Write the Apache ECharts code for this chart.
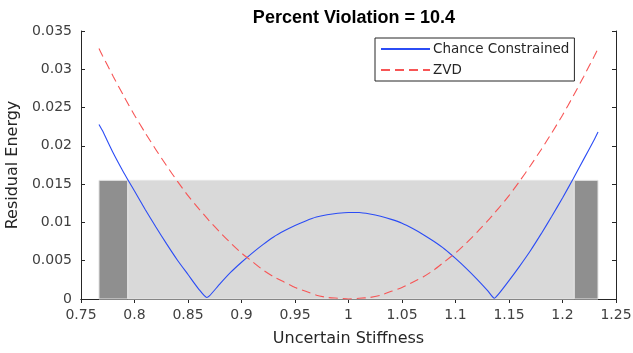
<!DOCTYPE html>
<html>
<head>
<meta charset="utf-8">
<script src="https://cdn.jsdelivr.net/npm/echarts@6/dist/echarts.min.js"></script>
<style>
  html, body { margin: 0; padding: 0; background: #fff; }
  #chart { width: 633px; height: 353px; }
</style>
</head>
<body>
<div id="chart"></div>
<script>
// stiffness samples and residual energy
const stiffness = [0.7668, 0.77, 0.78, 0.79, 0.80, 0.81, 0.82, 0.83, 0.84, 0.85, 0.86, 0.8675,
  0.87, 0.88, 0.89, 0.90, 0.91, 0.92, 0.93, 0.94, 0.95, 0.96, 0.97, 0.98, 0.99, 1.00,
  1.01, 1.02, 1.03, 1.04, 1.05, 1.06, 1.07, 1.08, 1.09, 1.10, 1.11, 1.12, 1.13, 1.1363,
  1.14, 1.15, 1.16, 1.17, 1.18, 1.19, 1.20, 1.21, 1.22, 1.23, 1.2332];
const chanceConstrained = [0.0228, 0.0220, 0.0191, 0.0165, 0.0141, 0.0117, 0.0094, 0.0072, 0.0051, 0.0032, 0.0013, 0.0002,
  0.0004, 0.0020, 0.0035, 0.0048, 0.0060, 0.0071, 0.0081, 0.0089, 0.0096, 0.0102, 0.0107, 0.0110, 0.0112, 0.0113,
  0.0113, 0.0111, 0.0108, 0.0104, 0.0099, 0.0092, 0.0084, 0.0075, 0.0065, 0.0053, 0.0040, 0.0026, 0.0011, 0.0001,
  0.0006, 0.0024, 0.0043, 0.0063, 0.0085, 0.0108, 0.0132, 0.0157, 0.0183, 0.0209, 0.0218];
const zvd = [0.0327, 0.0318, 0.0291, 0.0265, 0.0240, 0.0217, 0.0195, 0.0174, 0.0154, 0.0135, 0.0118, 0.0106,
  0.0102, 0.0087, 0.0073, 0.0060, 0.0049, 0.0038, 0.0029, 0.0022, 0.0015, 0.0010, 0.0005, 0.0002, 0.0001, 0.0000,
  0.0001, 0.0002, 0.0005, 0.0010, 0.0015, 0.0022, 0.0029, 0.0038, 0.0049, 0.0060, 0.0073, 0.0087, 0.0102, 0.0112,
  0.0118, 0.0135, 0.0154, 0.0174, 0.0195, 0.0217, 0.0240, 0.0265, 0.0291, 0.0318, 0.0327];

// uncertainty band: outer limits, inner limits, energy threshold
const bandOuter = [0.7668, 1.2332];
const bandInner = [0.7936, 1.211];
const threshold = 0.0155;

const xTicks = { min: 0.75, max: 1.25, step: 0.05 };
const yTicks = { min: 0, max: 0.035, step: 0.005 };

const pairs = ys => stiffness.map((x, i) => [x, ys[i]]);
const fmt = v => String(+v.toFixed(3));

const chart = echarts.init(document.getElementById('chart'));

const tickStyle = { inside: true, length: 4, lineStyle: { color: '#262626', width: 1 } };
const lineAxis = { lineStyle: { color: '#262626', width: 1 } };
const labelStyle = { color: '#404040', fontSize: 14, fontFamily: 'DejaVu Sans' };
const nameStyle = { fontSize: 16, color: '#262626', fontFamily: 'DejaVu Sans' };

chart.setOption({
  animation: false,
  title: {
    text: 'Percent Violation = 10.4',
    left: 349, textAlign: 'center', top: 4,
    textStyle: { fontSize: 18, fontWeight: 'bold', color: '#000', fontFamily: 'Liberation Sans' }
  },
  legend: {
    orient: 'vertical',
    left: 375, top: 38,
    padding: [4, 5, 4, 5],
    itemWidth: 49, itemHeight: 14, itemGap: 7,
    borderColor: '#262626', borderWidth: 1,
    backgroundColor: '#fff',
    itemStyle: { opacity: 0 },
    textStyle: { fontSize: 13.5, color: '#262626', fontFamily: 'DejaVu Sans', padding: [0, 0, 0, -2] },
    data: ['Chance Constrained', 'ZVD']
  },
  grid: { left: 81, right: 17, top: 31, bottom: 54, outerBoundsMode: 'none' },
  xAxis: [{
    type: 'value', min: xTicks.min, max: xTicks.max, interval: xTicks.step,
    name: 'Uncertain Stiffness', nameLocation: 'middle', nameGap: 32,
    nameTextStyle: nameStyle,
    axisLine: lineAxis, axisTick: tickStyle,
    axisLabel: Object.assign({ formatter: fmt, margin: 9 }, labelStyle),
    splitLine: { show: false }
  }, {
    type: 'value', position: 'top', min: xTicks.min, max: xTicks.max, interval: xTicks.step,
    axisLine: lineAxis, axisTick: tickStyle, axisLabel: { show: false }, splitLine: { show: false }
  }],
  yAxis: [{
    type: 'value', min: yTicks.min, max: yTicks.max, interval: yTicks.step,
    name: 'Residual Energy', nameLocation: 'middle', nameGap: 53,
    nameTextStyle: nameStyle,
    axisLine: lineAxis, axisTick: tickStyle,
    axisLabel: Object.assign({ formatter: fmt, margin: 9 }, labelStyle),
    splitLine: { show: false }
  }, {
    type: 'value', position: 'right', min: yTicks.min, max: yTicks.max, interval: yTicks.step,
    axisLine: lineAxis, axisTick: tickStyle, axisLabel: { show: false }, splitLine: { show: false }
  }],
  series: [{
    name: 'band',
    type: 'line',
    data: [],
    silent: true,
    z: 1,
    markArea: {
      silent: true,
      data: [
        [{ coord: [bandInner[0], 0], itemStyle: { color: '#d9d9d9', borderColor: '#e6e6e6', borderWidth: 1 } },
         { coord: [bandInner[1], threshold] }],
        [{ coord: [bandOuter[0], 0], itemStyle: { color: '#8f8f8f', borderColor: '#e6e6e6', borderWidth: 1 } },
         { coord: [bandInner[0], threshold] }],
        [{ coord: [bandInner[1], 0], itemStyle: { color: '#8f8f8f', borderColor: '#e6e6e6', borderWidth: 1 } },
         { coord: [bandOuter[1], threshold] }]
      ]
    }
  }, {
    name: 'Chance Constrained',
    type: 'line',
    data: pairs(chanceConstrained),
    smooth: 0.2,
    showSymbol: false, symbol: 'none',
    lineStyle: { color: '#2b4cf5', width: 1.1 },
    itemStyle: { color: '#2b4cf5' },
    z: 3
  }, {
    name: 'ZVD',
    type: 'line',
    data: pairs(zvd),
    smooth: 0.2,
    showSymbol: false, symbol: 'none',
    lineStyle: { color: '#f75555', width: 1.1, type: [9, 5] },
    itemStyle: { color: '#f75555' },
    z: 3
  }]
});
</script>
</body>
</html>
